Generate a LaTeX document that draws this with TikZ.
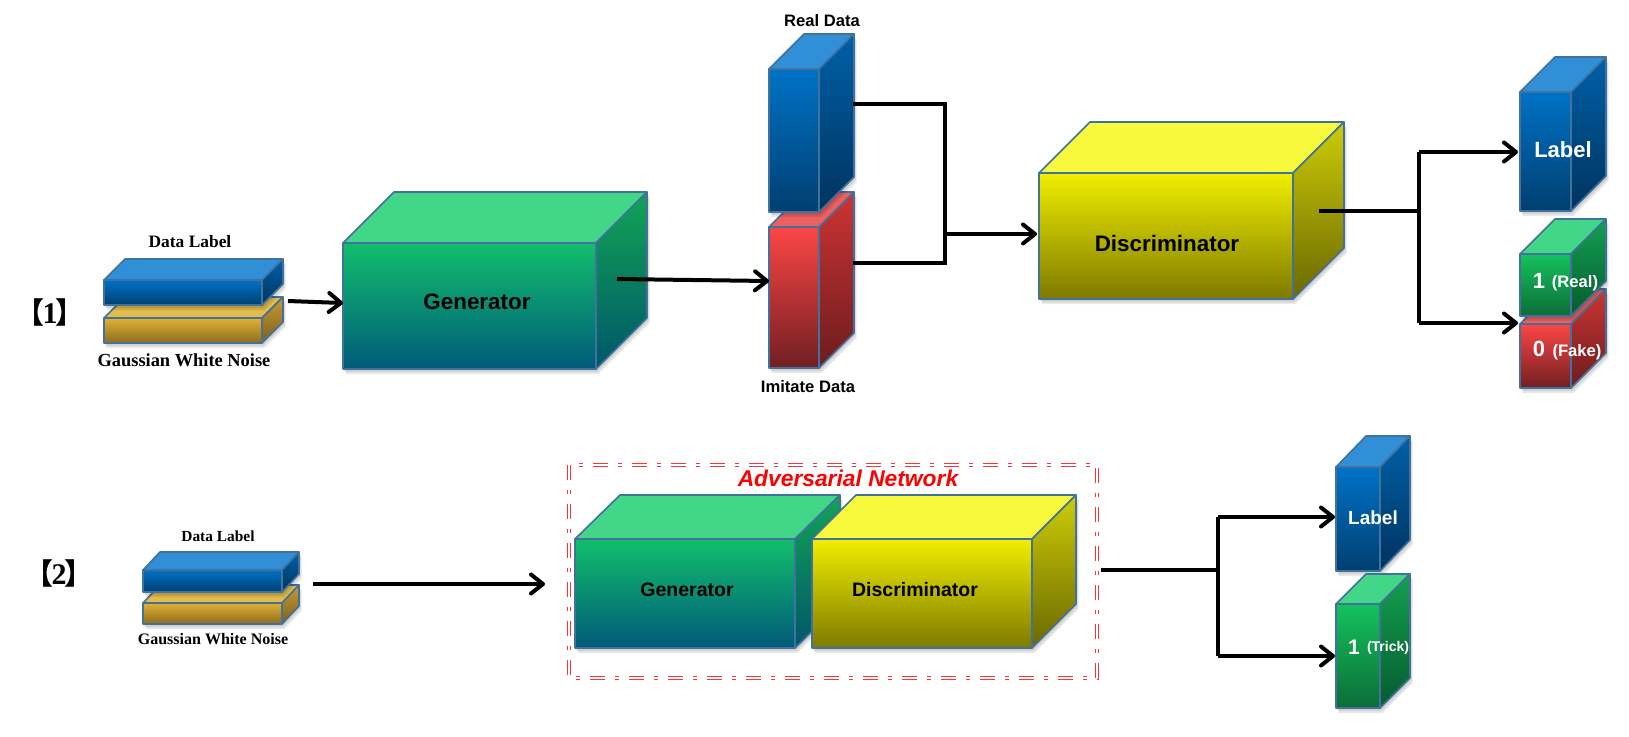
\documentclass[tikz,border=0pt]{standalone}
\usepackage{fontspec}
\setmainfont{Liberation Sans}
\newfontfamily\serifface{Liberation Serif}
\newfontfamily\cjkface{Noto Sans CJK SC}
\usetikzlibrary{arrows.meta}
\definecolor{bluefront}{HTML}{0072C6}
\definecolor{bluefrontb}{HTML}{003F70}
\definecolor{bluetop}{HTML}{318FD7}
\definecolor{blueside}{HTML}{0060A8}
\definecolor{bluesideb}{HTML}{00335E}
\definecolor{goldfront}{HTML}{E0B233}
\definecolor{goldfrontb}{HTML}{8C6C20}
\definecolor{goldtop}{HTML}{E2BC4C}
\definecolor{goldside}{HTML}{C49C30}
\definecolor{goldsideb}{HTML}{7E6020}
\definecolor{tealfront}{HTML}{12BE6C}
\definecolor{tealfrontb}{HTML}{005A7A}
\definecolor{tealtop}{HTML}{42D688}
\definecolor{tealside}{HTML}{12A454}
\definecolor{tealsideb}{HTML}{00566A}
\definecolor{greenfront}{HTML}{14C25E}
\definecolor{greenfrontb}{HTML}{0C6C38}
\definecolor{greentop}{HTML}{42D688}
\definecolor{greenside}{HTML}{12A050}
\definecolor{greensideb}{HTML}{085A30}
\definecolor{yellowfront}{HTML}{F0EE00}
\definecolor{yellowfrontb}{HTML}{7E7A00}
\definecolor{yellowtop}{HTML}{F7F93C}
\definecolor{yellowside}{HTML}{CCCC08}
\definecolor{yellowsideb}{HTML}{6C6800}
\definecolor{redfront}{HTML}{FC4646}
\definecolor{redfrontb}{HTML}{701E22}
\definecolor{redtop}{HTML}{EE6060}
\definecolor{redside}{HTML}{CC3434}
\definecolor{redsideb}{HTML}{6C1C1E}
\definecolor{edgeblue}{HTML}{41719C}
\tikzset{
	edge/.style={draw=edgeblue, line width=0.8pt, line join=round},
	flow/.style={line width=2pt, black, line join=miter},
	into/.style={flow, -{Straight Barb[length=6pt,width=9.5pt,round]}},
	boxtxt/.style={font=\fontsize{#1}{#1}\selectfont\bfseries, inner sep=0pt},
	serifbox/.style={font=\fontsize{#1}{#1}\selectfont\bfseries\serifface, inner sep=0pt},
	trim/.style={red!80, line width=0.45pt, double=white, double distance=0.75pt,
		dash pattern=on 7.5pt off 5pt on 2pt off 5pt}
}
\newcommand{\cuboid}[7]{
	\foreach \s in {1,3,5}
		\fill[black, opacity=0.09] ({#2+0.5*\s},{#3+#5+\s}) -- ++(#4,0) -- ++(#6,-#7) -- ++(0,-#5) -- ++(-#4,0) -- ++(-#6,#7) -- cycle;
	\draw[edge, fill=#1top] (#2,#3) -- ++(#6,-#7) -- ++(#4,0) -- ++(-#6,#7) -- cycle;
	\draw[edge, top color=#1side, bottom color=#1sideb] ({#2+#4},#3) -- ++(#6,-#7) -- ++(0,#5) -- ++(-#6,#7) -- cycle;
	\draw[edge, top color=#1front, bottom color=#1frontb] (#2,#3) rectangle ++(#4,#5);
}
\newcommand{\bracketed}[1]{{\cjkface\fontsize{14.5}{14.5}\selectfont 【}\hspace{-1pt}#1\hspace{-1pt}{\cjkface\fontsize{14.5}{14.5}\selectfont 】}}
\begin{document}
\begin{tikzpicture}[x=0.5pt,y=-0.5pt]
	\useasboundingbox (0,0) rectangle (1629,736);
	\coordinate (A1) at (288,301);
	\coordinate (A2) at (343,303);
	\coordinate (B1) at (617,279);
	\coordinate (B2) at (769,281);
	\coordinate (C1) at (853,104);
	\coordinate (C2) at (945,104);
	\coordinate (C3) at (945,263);
	\coordinate (C4) at (853,263);
	\coordinate (D1) at (945,234);
	\coordinate (D2) at (1037,234);
	\coordinate (E1) at (1319,211);
	\coordinate (E2) at (1419,211);
	\coordinate (E3) at (1419,152);
	\coordinate (E4) at (1518,152);
	\coordinate (E5) at (1419,323);
	\coordinate (E6) at (1518,323);
	\coordinate (F1) at (313,584);
	\coordinate (F2) at (545,584);
	\coordinate (G1) at (1101,570);
	\coordinate (G2) at (1218,570);
	\coordinate (G3) at (1218,517);
	\coordinate (G4) at (1335,517);
	\coordinate (G5) at (1218,656);
	\coordinate (G6) at (1335,656);
	\coordinate (Tl) at (569,465);
	\coordinate (Br) at (1097,678);
	\cuboid{gold}{104}{318}{158}{25}{21}{21}
	\cuboid{blue}{104}{280}{158}{25}{21}{21}
	\cuboid{teal}{343}{243}{253}{126}{51}{51}
	\cuboid{red}{769}{227}{50}{141}{35}{35}
	\cuboid{blue}{769}{69}{50}{143}{35}{35}
	\cuboid{yellow}{1039}{173}{254}{126}{51}{51}
	\cuboid{blue}{1520}{92}{51}{119}{35}{35}
	\cuboid{red}{1520}{324}{51}{64}{35}{35}
	\cuboid{green}{1520}{254}{51}{62}{35}{35}
	\cuboid{gold}{143}{603}{139}{21}{17}{18}
	\cuboid{blue}{143}{570}{139}{22}{17}{18}
	\cuboid{teal}{575}{539}{220}{109}{45}{44}
	\cuboid{yellow}{812}{539}{220}{109}{44}{44}
	\cuboid{blue}{1336}{467}{44}{104}{30}{31}
	\cuboid{green}{1336}{604}{44}{104}{30}{30}
	\draw[into] (A1) to (A2);
	\draw[into] (B1) to (B2);
	\draw[flow] (C1) to (C2) to (C3) to (C4);
	\draw[into] (D1) to (D2);
	\draw[flow] (E1) to (E2);
	\draw[into] (E3) to (E4);
	\draw[into] (E5) to (E6);
	\draw[flow] (E3) to (E5);
	\draw[into] (F1) to (F2);
	\draw[flow] (G1) to (G2);
	\draw[flow] (G3) to (G5);
	\draw[into] (G3) to (G4);
	\draw[into] (G5) to (G6);
	\draw[trim] (Tl) rectangle (Br);
	\node[serifbox=15] (no1) at (50,312) {\bracketed{1}};
	\node[serifbox=15] (no2) at (59,573) {\bracketed{2}};
	\node[serifbox=8.7] (datalabela) at (190,242) {Data Label};
	\node[serifbox=9.2] (noisea) at (184,360) {Gaussian White Noise};
	\node[serifbox=7.7] (datalabelb) at (218,536) {Data Label};
	\node[serifbox=8] (noiseb) at (213,639) {Gaussian White Noise};
	\node[boxtxt=8.3] (realdata) at (822,21) {Real Data};
	\node[boxtxt=8.3] (imitatedata) at (808,387) {Imitate Data};
	\node[boxtxt=11.2] (gena) at (477,302) {Generator};
	\node[boxtxt=11.2] (disca) at (1167,243) {Discriminator};
	\node[boxtxt=9.75] (genb) at (687,590) {Generator};
	\node[boxtxt=9.75] (discb) at (915,590) {Discriminator};
	\node[boxtxt=11, white] (labela) at (1563,150) {Label};
	\node[boxtxt=11, white] (one) at (1539,281) {1};
	\node[boxtxt=8.3, white] (real) at (1575,283) {(Real)};
	\node[boxtxt=11, white] (zero) at (1539,349) {0};
	\node[boxtxt=8.3, white] (fake) at (1577,352) {(Fake)};
	\node[boxtxt=9.5, white] (labelb) at (1373,518) {Label};
	\node[boxtxt=10.5, white] (oneb) at (1354,647) {1};
	\node[boxtxt=7, white] (trick) at (1388,648) {(Trick)};
	\node[boxtxt=11.4, red, font=\fontsize{11.4}{11.4}\selectfont\bfseries\itshape] (adv) at (848,478) {Adversarial Network};
\end{tikzpicture}
\end{document}
